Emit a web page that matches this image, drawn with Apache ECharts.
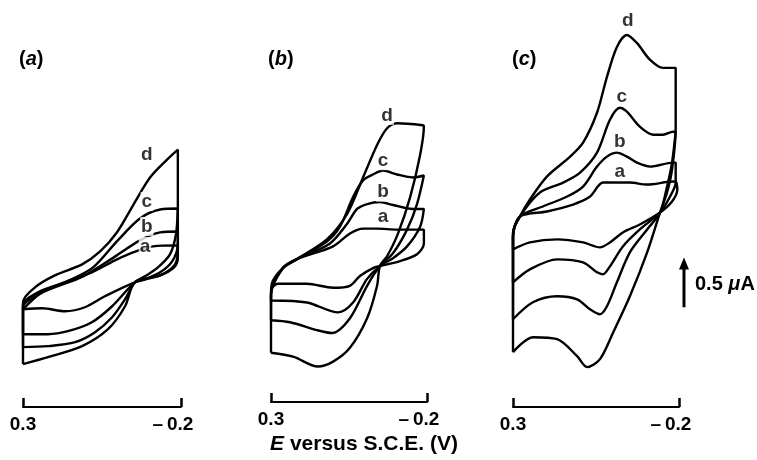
<!DOCTYPE html>
<html>
<head>
<meta charset="utf-8">
<script src="https://cdn.jsdelivr.net/npm/echarts@6/dist/echarts.min.js"></script>
<style>
  html, body { margin: 0; padding: 0; background: #fff; }
  #chart { width: 757px; height: 460px; }
</style>
</head>
<body>
<div id="chart"></div>
<script>
// each loop: [E (V vs S.C.E.), I (uA)], swept 0.3 -> -0.2 -> 0.3
const panelA_a = [[0.3,0.98],[0.240,1.15],[0.167,1.25],[0.082,1.35],[0.009,1.47],[-0.048,1.55],[-0.111,1.61],[-0.19,1.62],[-0.19,1.50],[-0.178,1.40],[-0.134,1.32],[-0.054,1.25],[0.041,1.11],[0.104,1.00],[0.167,0.96],[0.240,0.99],[0.3,0.98]];
const panelA_b = [[0.3,0.73],[0.3,1.00],[0.237,1.15],[0.110,1.31],[0.003,1.52],[-0.070,1.67],[-0.134,1.75],[-0.19,1.76],[-0.19,1.63],[-0.172,1.46],[-0.134,1.35],[-0.086,1.28],[-0.054,1.25],[0.018,1.01],[0.082,0.85],[0.158,0.76],[0.221,0.73],[0.3,0.73]];
const panelA_c = [[0.3,0.60],[0.3,1.02],[0.246,1.16],[0.161,1.26],[0.078,1.40],[0.003,1.66],[-0.070,1.89],[-0.134,1.98],[-0.19,1.99],[-0.184,1.73],[-0.165,1.53],[-0.127,1.40],[-0.086,1.31],[-0.054,1.25],[-0.023,1.08],[0.018,0.90],[0.072,0.75],[0.135,0.65],[0.221,0.61],[0.3,0.60]];
const panelA_d = [[0.3,0.43],[0.3,1.05],[0.262,1.20],[0.199,1.32],[0.113,1.43],[0.056,1.56],[0.003,1.75],[-0.048,2.02],[-0.102,2.30],[-0.156,2.48],[-0.19,2.58],[-0.19,2.08],[-0.19,1.58],[-0.181,1.43],[-0.134,1.32],[-0.054,1.25],[-0.023,1.01],[0.031,0.78],[0.113,0.61],[0.221,0.50],[0.3,0.43]];

const panelB_a = [[0.3,1.15],[0.262,1.36],[0.217,1.45],[0.101,1.58],[0.047,1.71],[0.005,1.76],[-0.040,1.76],[-0.104,1.75],[-0.19,1.75],[-0.19,1.61],[-0.168,1.50],[-0.113,1.43],[-0.049,1.38],[-0.027,1.36],[0.015,1.28],[0.047,1.18],[0.101,1.16],[0.185,1.20],[0.278,1.20],[0.3,1.15]];
const panelB_b = [[0.3,1.03],[0.3,1.08],[0.262,1.36],[0.217,1.45],[0.111,1.61],[0.056,1.81],[0.024,1.96],[-0.008,2.01],[-0.049,2.03],[-0.091,2.00],[-0.155,1.96],[-0.19,1.96],[-0.178,1.78],[-0.136,1.58],[-0.091,1.46],[-0.049,1.38],[-0.008,1.25],[0.037,1.01],[0.085,0.91],[0.185,1.01],[0.3,1.03]];
const panelB_c = [[0.3,0.83],[0.3,1.10],[0.262,1.36],[0.217,1.45],[0.121,1.63],[0.079,1.78],[0.037,2.08],[0.005,2.25],[-0.027,2.31],[-0.059,2.35],[-0.104,2.31],[-0.155,2.28],[-0.19,2.30],[-0.168,2.01],[-0.136,1.75],[-0.091,1.51],[-0.049,1.38],[-0.008,1.18],[0.047,0.85],[0.104,0.70],[0.153,0.73],[0.239,0.81],[0.3,0.83]];
const panelB_d = [[0.3,0.50],[0.3,1.11],[0.294,1.23],[0.262,1.36],[0.217,1.45],[0.121,1.65],[0.056,1.91],[0.005,2.28],[-0.040,2.61],[-0.072,2.78],[-0.104,2.83],[-0.187,2.81],[-0.19,2.80],[-0.178,2.51],[-0.146,2.08],[-0.107,1.71],[-0.072,1.48],[-0.049,1.38],[-0.040,1.18],[-0.008,0.85],[0.047,0.55],[0.101,0.41],[0.150,0.36],[0.229,0.46],[0.3,0.50]];

const panelC_a = [[0.3,1.58],[0.3,1.70],[0.279,1.91],[0.198,1.96],[0.119,2.03],[0.068,2.11],[0.029,2.25],[-0.013,2.25],[-0.052,2.25],[-0.104,2.23],[-0.182,2.26],[-0.19,2.26],[-0.195,2.18],[-0.179,2.06],[-0.143,1.95],[-0.082,1.83],[-0.031,1.75],[0.008,1.65],[0.038,1.60],[0.089,1.65],[0.167,1.68],[0.249,1.65],[0.3,1.58]];
const panelC_b = [[0.3,1.25],[0.3,1.71],[0.279,1.91],[0.210,2.01],[0.137,2.11],[0.089,2.21],[0.047,2.41],[0.017,2.51],[-0.013,2.55],[-0.043,2.51],[-0.073,2.45],[-0.113,2.41],[-0.182,2.45],[-0.19,2.45],[-0.19,2.25],[-0.173,2.11],[-0.143,1.95],[-0.082,1.78],[-0.031,1.61],[0.008,1.41],[0.029,1.33],[0.047,1.35],[0.089,1.45],[0.167,1.48],[0.249,1.38],[0.3,1.25]];
const panelC_c = [[0.3,0.88],[0.3,1.73],[0.279,1.91],[0.219,2.15],[0.149,2.25],[0.098,2.35],[0.047,2.55],[0.008,2.88],[-0.022,3.00],[-0.043,2.96],[-0.082,2.81],[-0.122,2.73],[-0.152,2.73],[-0.182,2.76],[-0.19,2.76],[-0.179,2.45],[-0.164,2.21],[-0.143,1.95],[-0.104,1.78],[-0.052,1.55],[-0.013,1.25],[0.017,1.01],[0.038,0.93],[0.068,0.98],[0.107,1.08],[0.167,1.11],[0.240,1.05],[0.3,0.88]];
const panelC_d = [[0.3,0.55],[0.3,1.75],[0.279,1.91],[0.249,2.08],[0.198,2.31],[0.128,2.51],[0.089,2.65],[0.047,2.95],[0.017,3.31],[-0.013,3.61],[-0.043,3.73],[-0.073,3.65],[-0.113,3.48],[-0.152,3.40],[-0.19,3.40],[-0.19,2.78],[-0.179,2.38],[-0.164,2.15],[-0.143,1.95],[-0.104,1.55],[-0.052,1.11],[-0.002,0.75],[0.038,0.48],[0.077,0.40],[0.107,0.51],[0.167,0.68],[0.240,0.70],[0.3,0.55]];

// where the curve letters sit, [E, I]
const curveNames = ['a', 'b', 'c', 'd'];
const labelsA = [[-0.086,1.61],[-0.092,1.81],[-0.092,2.06],[-0.092,2.53]];
const labelsB = [[-0.059,1.88],[-0.059,2.13],[-0.059,2.45],[-0.072,2.91]];
const labelsC = [[-0.022,2.36],[-0.022,2.66],[-0.028,3.11],[-0.046,3.87]];

const panelNames = ['a', 'b', 'c'];
const eRange = [-0.2, 0.3];
const scaleBar = [0.5];   // uA
const scaleBarAt = [-0.215, 1.0];

const chart = echarts.init(document.getElementById('chart'));

const loops = [
  [panelA_a, panelA_b, panelA_c, panelA_d],
  [panelB_a, panelB_b, panelB_c, panelB_d],
  [panelC_a, panelC_b, panelC_c, panelC_d]
];
const labelPos = [labelsA, labelsB, labelsC];
const boxes = [{ left: 23, width: 158 }, { left: 271, width: 156 }, { left: 513, width: 166 }];
const ink = '#000';
const font = 'Liberation Sans, Arial, sans-serif';

let grid = [], xAxis = [], yAxis = [], series = [], title = [];

boxes.forEach((b, i) => {
  grid.push({ left: b.left, width: b.width, top: 10, bottom: 53 });
  xAxis.push({
    gridIndex: i,
    type: 'value',
    inverse: true,
    min: eRange[0],
    max: eRange[1],
    interval: 0.5,
    splitLine: { show: false },
    axisLine: { lineStyle: { color: ink, width: 2 } },
    axisTick: { inside: true, length: 9, lineStyle: { color: ink, width: 2.5 } },
    axisLabel: {
      margin: 8,
      color: ink,
      fontFamily: font,
      fontSize: 19,
      fontWeight: 'bold',
      // wide dash for the minus, as printed
      formatter: v => v < 0 ? '{m|\u2013\u2009' + Math.abs(v).toFixed(1) + '}' : '{n|' + v.toFixed(1) + '}',
      rich: {
        m: { fontSize: 19, fontWeight: 'bold', fontFamily: font, color: ink, padding: [0, 16, 0, 0] },
        n: { fontSize: 19, fontWeight: 'bold', fontFamily: font, color: ink }
      }
    },
    name: i === 1 ? '{i|E} versus S.C.E. (V)' : '',
    nameLocation: 'middle',
    nameGap: 32,
    nameTextStyle: {
      color: ink, fontFamily: font, fontSize: 21, fontWeight: 'bold', padding: [0, 0, 0, 30],
      rich: { i: { fontStyle: 'italic', fontWeight: 'bold', fontSize: 21, fontFamily: font, color: ink } }
    }
  });
  yAxis.push({ gridIndex: i, type: 'value', min: 0, max: 3.98, show: false });

  title.push({
    text: '{p|(}{i|' + panelNames[i] + '}{p|)}',
    left: [14, 263, 507][i],
    top: 44,
    textStyle: {
      rich: {
        p: { fontSize: 20, fontWeight: 'bold', fontFamily: font, color: ink },
        i: { fontSize: 20, fontWeight: 'bold', fontStyle: 'italic', fontFamily: font, color: ink }
      }
    }
  });

  loops[i].forEach((loop, k) => {
    series.push({
      type: 'line',
      name: panelNames[i] + curveNames[k],
      xAxisIndex: i,
      yAxisIndex: i,
      data: loop,
      symbol: 'none',
      smooth: 0.3,
      lineStyle: { color: ink, width: 2.4 }
    });
  });

  series.push({
    type: 'scatter',
    xAxisIndex: i,
    yAxisIndex: i,
    symbolSize: 0,
    data: labelPos[i].map((p, k) => ({ value: p, name: curveNames[k] })),
    label: {
      show: true,
      position: 'inside',
      formatter: '{b}',
      color: ink,
      fontFamily: font,
      fontSize: 19,
      fontWeight: 'bold',
      backgroundColor: '#fff',
      padding: [0, 1]
    },
    z: 5
  });
});

// 0.5 uA scale bar beside panel (c)
series.push({
  type: 'custom',
  xAxisIndex: 2,
  yAxisIndex: 2,
  clip: false,
  data: [[scaleBarAt[0], scaleBarAt[1], scaleBar[0]]],
  renderItem: (params, api) => {
    const p0 = api.coord([api.value(0), api.value(1)]);
    const p1 = api.coord([api.value(0), api.value(1) + api.value(2)]);
    return {
      type: 'group',
      children: [
        { type: 'line', shape: { x1: p0[0], y1: p0[1], x2: p1[0], y2: p1[1] + 10 }, style: { stroke: ink, lineWidth: 3 } },
        { type: 'polygon', shape: { points: [[p1[0], p1[1]], [p1[0] - 5, p1[1] + 12], [p1[0] + 5, p1[1] + 12]] }, style: { fill: ink } },
        {
          type: 'text',
          x: p0[0] + 11,
          y: (p0[1] + p1[1]) / 2 + 2,
          style: {
            text: api.value(2) + ' {u|\u03bc}A',
            fill: ink, font: 'bold 20px ' + font, verticalAlign: 'middle',
            rich: { u: { fontStyle: 'italic', fontWeight: 'bold', fontSize: 20, fontFamily: font, fill: ink } }
          }
        }
      ]
    };
  },
  z: 5
});

chart.setOption({
  animation: false,
  backgroundColor: '#fff',
  title: title,
  grid: grid,
  xAxis: xAxis,
  yAxis: yAxis,
  series: series
});
</script>
</body>
</html>
